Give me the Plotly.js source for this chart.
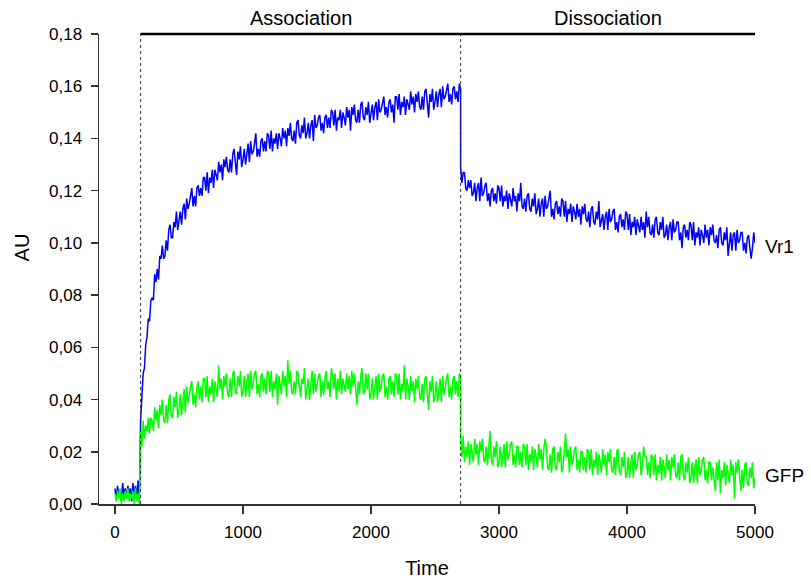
<!DOCTYPE html>
<html>
<head>
<meta charset="utf-8">
<script src="https://cdn.plot.ly/plotly-3.0.1.min.js"></script>
<style>html,body{margin:0;padding:0;background:#fff}#chart{width:811px;height:579px}</style>
</head>
<body>
<div id="chart"></div>
<script>
// Sampling clock of the recording (s)
const baselineStart = 0, baselineStep = 10;
const assocStart = 200, assocStep = 10;
const dissocStart = 2700, dissocStep = 10;

// Phase boundaries and labels
const phaseBounds = [200, 2700, 5000];
const phaseNames = ['Association', 'Dissociation'];

// Series names and label positions (value at right end)
const seriesNames = ['Vr1', 'GFP'];
const seriesColors = ['#0000ff', '#00ff00'];
const seriesLabelY = [0.0988, 0.0111];

// Vr1 (blue), values in AU
const vr1Baseline = [0.006,0.002,0.007,0.003,0.005,0.001,0.008,0.003,0.006,0.002,0.007,0.004,0.006,0.001,0.008,0.003,0.007,0.002,0.009,0.001];
const vr1Assoc = [
0.032,0.039,0.050,0.052,0.061,0.064,0.071,0.070,0.078,0.079,
0.078,0.088,0.085,0.090,0.086,0.095,0.094,0.099,0.094,0.095,
0.101,0.097,0.105,0.107,0.102,0.102,0.108,0.106,0.112,0.105,
0.108,0.112,0.107,0.113,0.115,0.109,0.117,0.113,0.115,0.118,
0.121,0.114,0.118,0.114,0.121,0.122,0.118,0.121,0.118,0.125,
0.125,0.120,0.127,0.119,0.125,0.123,0.128,0.121,0.128,0.126,
0.124,0.131,0.127,0.130,0.124,0.132,0.129,0.133,0.128,0.127,
0.132,0.127,0.134,0.136,0.130,0.126,0.135,0.132,0.137,0.129,
0.132,0.136,0.130,0.135,0.138,0.131,0.139,0.134,0.135,0.138,
0.142,0.133,0.136,0.133,0.139,0.140,0.135,0.139,0.135,0.142,
0.141,0.136,0.143,0.135,0.140,0.138,0.142,0.136,0.142,0.140,
0.137,0.144,0.140,0.143,0.137,0.144,0.141,0.146,0.140,0.139,
0.143,0.138,0.146,0.147,0.141,0.140,0.145,0.142,0.148,0.140,
0.142,0.146,0.140,0.145,0.147,0.139,0.149,0.144,0.145,0.148,
0.149,0.143,0.146,0.142,0.148,0.149,0.144,0.148,0.144,0.151,
0.150,0.145,0.151,0.143,0.148,0.147,0.151,0.144,0.150,0.148,
0.145,0.152,0.148,0.151,0.143,0.152,0.149,0.153,0.147,0.146,
0.151,0.146,0.153,0.154,0.148,0.147,0.152,0.149,0.154,0.146,
0.149,0.153,0.147,0.152,0.154,0.147,0.155,0.150,0.151,0.154,
0.156,0.149,0.152,0.148,0.154,0.155,0.150,0.153,0.146,0.156,
0.156,0.151,0.157,0.149,0.154,0.152,0.156,0.149,0.155,0.153,
0.151,0.158,0.153,0.156,0.150,0.157,0.154,0.158,0.152,0.151,
0.156,0.151,0.158,0.159,0.153,0.148,0.157,0.154,0.159,0.151,
0.154,0.158,0.152,0.157,0.159,0.152,0.160,0.155,0.156,0.159,
0.161,0.154,0.157,0.153,0.159,0.160,0.155,0.158,0.154,0.161,
0.159];
const vr1Dissoc = [
0.129,0.123,0.127,0.127,0.121,0.120,0.124,0.121,0.124,0.118,
0.119,0.123,0.116,0.121,0.123,0.116,0.125,0.118,0.119,0.122,
0.123,0.116,0.119,0.114,0.120,0.121,0.116,0.119,0.115,0.122,
0.121,0.116,0.122,0.114,0.118,0.116,0.120,0.113,0.119,0.117,
0.114,0.121,0.116,0.118,0.112,0.119,0.116,0.123,0.114,0.113,
0.117,0.112,0.118,0.119,0.113,0.112,0.117,0.114,0.119,0.111,
0.113,0.117,0.110,0.115,0.117,0.110,0.118,0.113,0.114,0.117,
0.120,0.110,0.113,0.109,0.115,0.116,0.111,0.114,0.110,0.117,
0.116,0.110,0.116,0.108,0.113,0.111,0.115,0.108,0.114,0.112,
0.109,0.115,0.110,0.113,0.107,0.114,0.111,0.115,0.109,0.108,
0.112,0.106,0.113,0.114,0.108,0.107,0.112,0.109,0.116,0.106,
0.108,0.111,0.105,0.110,0.112,0.105,0.113,0.108,0.109,0.112,
0.113,0.105,0.108,0.104,0.110,0.111,0.106,0.109,0.105,0.112,
0.111,0.105,0.111,0.103,0.108,0.106,0.110,0.103,0.109,0.107,
0.104,0.110,0.105,0.108,0.102,0.112,0.106,0.110,0.104,0.103,
0.107,0.102,0.109,0.110,0.104,0.103,0.108,0.105,0.110,0.102,
0.103,0.107,0.101,0.106,0.108,0.101,0.109,0.104,0.105,0.108,
0.108,0.101,0.104,0.098,0.106,0.107,0.102,0.105,0.101,0.108,
0.107,0.101,0.108,0.099,0.104,0.102,0.106,0.099,0.105,0.103,
0.100,0.107,0.102,0.105,0.099,0.106,0.103,0.107,0.101,0.100,
0.103,0.098,0.105,0.106,0.100,0.099,0.104,0.101,0.106,0.095,
0.099,0.104,0.097,0.103,0.104,0.097,0.105,0.100,0.101,0.104,
0.104,0.097,0.100,0.096,0.102,0.103,0.098,0.094,0.098,0.104,
0.100];

// GFP (green), values in AU
const gfpBaseline = [0.004,0.001,0.005,0.002,0.006,0.000,0.004,0.001,0.005,0.002,0.006,0.001,0.004,0.002,0.005,0.000,0.006,0.001,0.004,0.000];
const gfpAssoc = [
0.028,0.022,0.032,0.025,0.030,0.028,0.033,0.027,0.033,0.032,
0.028,0.037,0.032,0.036,0.029,0.038,0.034,0.040,0.032,0.031,
0.038,0.031,0.040,0.042,0.034,0.033,0.041,0.037,0.043,0.033,
0.036,0.042,0.034,0.041,0.044,0.035,0.045,0.039,0.041,0.045,
0.047,0.038,0.042,0.037,0.045,0.047,0.040,0.045,0.039,0.048,
0.048,0.041,0.049,0.039,0.045,0.042,0.048,0.039,0.047,0.044,
0.041,0.053,0.044,0.048,0.040,0.049,0.045,0.050,0.042,0.041,
0.048,0.041,0.050,0.051,0.043,0.042,0.049,0.045,0.051,0.041,
0.043,0.049,0.041,0.047,0.050,0.041,0.051,0.044,0.046,0.050,
0.051,0.042,0.046,0.041,0.049,0.050,0.043,0.048,0.042,0.051,
0.050,0.043,0.051,0.041,0.047,0.044,0.050,0.038,0.049,0.046,
0.042,0.051,0.045,0.049,0.041,0.055,0.046,0.051,0.043,0.042,
0.047,0.042,0.051,0.050,0.044,0.041,0.048,0.046,0.052,0.040,
0.044,0.048,0.040,0.047,0.051,0.042,0.050,0.043,0.047,0.049,
0.050,0.041,0.047,0.042,0.048,0.051,0.044,0.047,0.041,0.052,
0.049,0.044,0.050,0.040,0.048,0.043,0.051,0.042,0.048,0.045,
0.043,0.050,0.044,0.049,0.042,0.051,0.045,0.050,0.044,0.038,
0.047,0.042,0.049,0.052,0.042,0.043,0.050,0.044,0.050,0.040,
0.042,0.048,0.040,0.046,0.049,0.040,0.050,0.043,0.045,0.049,
0.050,0.041,0.045,0.040,0.048,0.049,0.042,0.047,0.041,0.050,
0.049,0.042,0.050,0.040,0.046,0.043,0.053,0.040,0.048,0.045,
0.040,0.049,0.043,0.047,0.039,0.048,0.044,0.049,0.041,0.040,
0.046,0.039,0.048,0.049,0.041,0.036,0.047,0.043,0.049,0.039,
0.041,0.047,0.039,0.045,0.048,0.039,0.049,0.042,0.044,0.048,
0.050,0.041,0.045,0.040,0.048,0.049,0.042,0.047,0.041,0.050,
0.049];
const gfpDissoc = [
0.026,0.018,0.026,0.016,0.022,0.018,0.024,0.015,0.023,0.020,
0.016,0.025,0.019,0.023,0.015,0.024,0.020,0.025,0.017,0.016,
0.022,0.015,0.024,0.028,0.017,0.015,0.022,0.018,0.024,0.014,
0.016,0.022,0.014,0.020,0.023,0.014,0.024,0.017,0.019,0.023,
0.024,0.015,0.019,0.014,0.022,0.022,0.015,0.020,0.014,0.023,
0.022,0.015,0.023,0.013,0.019,0.016,0.022,0.013,0.021,0.018,
0.014,0.023,0.017,0.021,0.013,0.021,0.025,0.022,0.014,0.013,
0.019,0.012,0.021,0.022,0.014,0.013,0.020,0.016,0.022,0.012,
0.014,0.020,0.027,0.018,0.021,0.012,0.022,0.015,0.017,0.021,
0.022,0.013,0.017,0.012,0.020,0.020,0.013,0.018,0.012,0.021,
0.020,0.013,0.021,0.011,0.017,0.014,0.020,0.011,0.019,0.016,
0.012,0.021,0.015,0.019,0.011,0.020,0.016,0.021,0.013,0.012,
0.018,0.011,0.020,0.021,0.013,0.011,0.018,0.014,0.020,0.010,
0.012,0.018,0.010,0.016,0.019,0.010,0.020,0.013,0.015,0.019,
0.020,0.011,0.015,0.022,0.018,0.018,0.011,0.016,0.010,0.019,
0.018,0.011,0.019,0.009,0.015,0.012,0.018,0.009,0.017,0.014,
0.010,0.019,0.013,0.017,0.009,0.018,0.014,0.019,0.011,0.010,
0.016,0.009,0.018,0.019,0.011,0.009,0.016,0.012,0.018,0.008,
0.010,0.016,0.008,0.014,0.017,0.008,0.018,0.011,0.013,0.017,
0.018,0.009,0.013,0.008,0.016,0.016,0.009,0.014,0.008,0.005,
0.016,0.009,0.017,0.004,0.013,0.010,0.016,0.007,0.015,0.012,
0.008,0.017,0.011,0.015,0.002,0.016,0.012,0.017,0.009,0.005,
0.013,0.006,0.015,0.016,0.008,0.007,0.014,0.010,0.016,0.006,
0.010];

function buildSeries(base, assoc, dissoc) {
  const x = [], y = [];
  base.forEach((v, i) => { x.push(baselineStart + i * baselineStep); y.push(v); });
  assoc.forEach((v, i) => { x.push(assocStart + i * assocStep); y.push(v); });
  dissoc.forEach((v, i) => { x.push(dissocStart + i * dissocStep); y.push(v); });
  return {x, y};
}

const s1 = buildSeries(vr1Baseline, vr1Assoc, vr1Dissoc);
const s2 = buildSeries(gfpBaseline, gfpAssoc, gfpDissoc);

const traces = [s1, s2].map((s, k) => ({
  x: s.x, y: s.y, type: 'scatter', mode: 'lines', name: seriesNames[k],
  line: {color: seriesColors[k], width: 1.5}, hoverinfo: 'skip'
}));

const font = {family: '"Liberation Sans", Arial, sans-serif', color: '#000'};

const shapes = [
  {type: 'line', xref: 'x', yref: 'paper', x0: phaseBounds[0], x1: phaseBounds[0], y0: 0, y1: 1, line: {color: '#333', width: 1, dash: 'dot'}},
  {type: 'line', xref: 'x', yref: 'paper', x0: phaseBounds[1], x1: phaseBounds[1], y0: 0, y1: 1, line: {color: '#333', width: 1, dash: 'dot'}},
  {type: 'line', xref: 'x', yref: 'paper', x0: phaseBounds[0], x1: phaseBounds[2], y0: 1, y1: 1, line: {color: '#000', width: 2.5}}
];

const annotations = [];
phaseNames.forEach((n, i) => {
  annotations.push({x: (phaseBounds[i] + phaseBounds[i + 1]) / 2, y: 1, xref: 'x', yref: 'paper',
    text: n, showarrow: false, yanchor: 'bottom', yshift: 3, font: Object.assign({size: 20}, font)});
});
seriesNames.forEach((n, i) => {
  annotations.push({x: phaseBounds[2], y: seriesLabelY[i], xref: 'x', yref: 'y', text: n,
    showarrow: false, xanchor: 'left', xshift: 8, font: Object.assign({size: 19}, font)});
});
// y-axis title placed as in the reference (slightly above the axis middle)
annotations.push({x: -0.118, y: 0.545, xref: 'paper', yref: 'paper', text: 'AU', textangle: -90,
  showarrow: false, xanchor: 'center', yanchor: 'middle', font: Object.assign({size: 20}, font)});

const layout = {
  width: 811, height: 579,
  margin: {l: 99, r: 56, t: 34, b: 75},
  paper_bgcolor: '#fff', plot_bgcolor: '#fff',
  separators: ',.',
  showlegend: false,
  font: Object.assign({size: 17}, font),
  xaxis: {
    range: [-125, 5000], tickvals: [0, 1000, 2000, 3000, 4000, 5000], tickformat: 'd',
    showgrid: false, zeroline: false, showline: true, linecolor: '#333', linewidth: 1.5,
    ticks: 'outside', ticklen: 8, tickwidth: 1.5, tickcolor: '#333', ticklabelstandoff: 4,
    tickfont: Object.assign({size: 17}, font),
    title: {text: 'Time', font: Object.assign({size: 20}, font), standoff: 20}
  },
  yaxis: {
    range: [0, 0.18], dtick: 0.02, tick0: 0, tickformat: '.2f',
    showgrid: false, zeroline: false, showline: true, linecolor: '#333', linewidth: 1.5,
    ticks: 'outside', ticklen: 7, tickwidth: 1.5, tickcolor: '#333', ticklabelstandoff: 5,
    tickfont: Object.assign({size: 17}, font)
  },
  shapes: shapes,
  annotations: annotations
};

Plotly.newPlot('chart', traces, layout, {displayModeBar: false, staticPlot: true});
</script>
</body>
</html>
